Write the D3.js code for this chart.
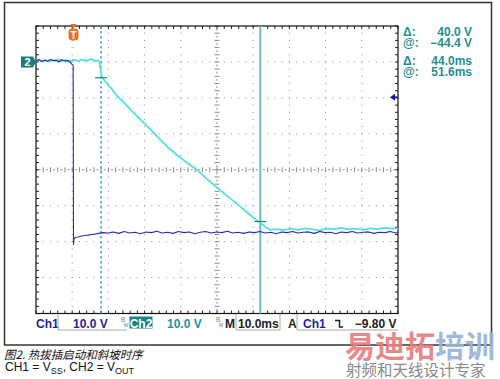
<!DOCTYPE html>
<html><head><meta charset="utf-8">
<script src="https://cdn.jsdelivr.net/npm/d3@7"></script>
<style>body{margin:0;background:#fff}svg{display:block}</style>
</head><body>
<script>
// ---- data (ms, V) ----
const timeDomain = [-10.36, 89.64];   // 10 ms/div, 10 divisions
const voltDomain = [-70, 10];         // 10 V/div, 8 divisions
const ch2Trace = [
 [-10.36,0.4],[-9.4,0.6],[-8.5,0.2],[-7.6,0.5],[-6.7,0.1],[-5.8,0.6],[-4.9,0.3],[-4.0,0.7],[-3.1,0.2],
 [-2.2,0.5],[-1.3,0.0],[-0.4,0.4],[0.5,0.6],[1.4,0.2],[2.3,0.7],[3.2,0.3],[4.1,0.5],[5.0,0.8],[5.9,0.3],
 [6.6,0.4],[7.1,0.2],[7.18,0.0],[7.6,-2.8],[7.87,-4.2],[8.7,-5.4],[9.53,-6.4],[10.64,-7.6],[12.02,-9.5],
 [13.67,-11.0],[15.61,-13.1],[18.37,-15.9],[21.13,-18.6],[23.62,-21.3],[26.1,-23.8],[29.97,-27.0],
 [34.12,-30.05],[36.88,-32.6],[39.92,-35.2],[42.96,-37.7],[46.0,-40.2],[48.48,-42.3],[50.69,-44.1],
 [52.35,-45.35],[53.45,-46.2],[54.28,-46.7],[56,-46.5],[58,-46.8],[60,-46.4],[62,-46.7],[64,-46.3],
 [66,-46.6],[68,-46.9],[70,-46.4],[72,-46.5],[74,-46.2],[76,-46.6],[78,-46.4],[80,-46.7],[82,-46.3],
 [84,-46.5],[86,-46.2],[88,-46.4],[89.64,-46.3]
];
const ch1Trace = [
 [-10.36,0.3],[-9.6,0.6],[-8.8,0.1],[-8.0,0.5],[-7.2,0.2],[-6.4,0.7],[-5.6,0.3],[-4.8,0.5],[-4.0,0.0],
 [-3.2,0.6],[-2.4,0.3],[-1.6,0.4],[-1.0,0.1],[-0.5,-0.6],[-0.1,-0.9],[0.0,-50.8],[0.15,-49.2],[0.6,-48.8],
 [1.2,-48.7],[2.0,-48.5],[3.0,-48.3],[4.0,-48.2],[5.0,-48.0],[6.0,-47.9],[7.0,-47.7],[8.0,-47.5],[9.5,-47.6],
 [11,-47.3],[12.5,-47.7],[14,-47.2],[15.5,-47.6],[17,-47.4],[18.5,-47.8],[20,-47.3],[21.5,-47.5],[23,-47.1],
 [24.5,-47.6],[26,-47.4],[27.5,-47.7],[29,-47.2],[30.5,-47.5],[32,-47.3],[33.5,-47.8],[35,-47.4],[36.5,-47.2],
 [38,-47.6],[39.5,-47.3],[41,-47.5],[42.5,-47.1],[44,-47.6],[45.5,-47.4],[47,-47.7],[48.5,-47.3],[50,-47.5],
 [51.5,-47.2],[53,-47.6],[54.5,-47.4],[56,-47.8],[57.5,-47.3],[59,-47.5],[60.5,-47.2],[62,-47.6],[63.5,-47.4],
 [65,-47.3],[66.5,-47.7],[68,-47.2],[69.5,-47.5],[71,-47.4],[72.5,-47.8],[74,-47.3],[75.5,-47.5],[77,-47.2],
 [78.5,-47.6],[80,-47.4],[81.5,-47.3],[83,-47.7],[84.5,-47.4],[86,-47.5],[87.5,-47.2],[89,-47.6],[89.64,-47.4]
];
const cursorTimes = [7.6, 51.6];
const cursorVolts = [-4.4, -44.4];
const triggerTime = 0;
const triggerLevel = -9.8;
const ch2Ground = 0;
const readoutLabels = ["Δ:", "@:", "Δ:", "@:"];
const readoutValues = ["40.0 V", "−44.4 V", "44.0ms", "51.6ms"];
const captionTitle = "图2. 热拔插启动和斜坡时序";

// ---- layout ----
const W = 500, H = 379;
const L = 36, R = 398, T = 26, B = 313.5;
const svg = d3.select("body").append("svg").attr("width", W).attr("height", H);
const x = d3.scaleLinear().domain(timeDomain).range([L, R]);
const y = d3.scaleLinear().domain(voltDomain).range([B, T]);
const gx = d3.scaleLinear().domain([0, 10]).range([L, R]);
const gy = d3.scaleLinear().domain([0, 8]).range([T, B]);

// outer frame
svg.append("rect").attr("x", 4.5).attr("y", 2.5).attr("width", 487).attr("height", 342.5)
  .attr("fill", "none").attr("stroke", "#333").attr("stroke-width", 1.5);

const grid = svg.append("g");
const dotC = "#8a8a8a";
for (let i = 1; i < 10; i++) {
  if (i === 5) continue;
  for (let j = 0; j <= 40; j++) grid.append("rect").attr("x", gx(i) - 0.5).attr("y", gy(j * 0.2) - 0.5).attr("width", 1).attr("height", 1).attr("fill", dotC);
}
for (let i = 1; i < 8; i++) {
  if (i === 4) continue;
  for (let j = 0; j <= 50; j++) grid.append("rect").attr("x", gx(j * 0.2) - 0.5).attr("y", gy(i) - 0.5).attr("width", 1).attr("height", 1).attr("fill", dotC);
}
for (let j = 0; j <= 50; j++) {
  const px = gx(j * 0.2);
  grid.append("line").attr("x1", px).attr("x2", px).attr("y1", gy(4) - 2.5).attr("y2", gy(4) + 2.5).attr("stroke", dotC).attr("stroke-width", 1);
  if (j < 50) grid.append("rect").attr("x", gx(j * 0.2 + 0.1) - 1).attr("y", gy(4) - 0.5).attr("width", 2).attr("height", 1).attr("fill", dotC);
  grid.append("line").attr("x1", px).attr("x2", px).attr("y1", T).attr("y2", T + 3).attr("stroke", "#222");
  grid.append("line").attr("x1", px).attr("x2", px).attr("y1", B).attr("y2", B - 3).attr("stroke", "#222");
}
for (let j = 0; j <= 40; j++) {
  const py = gy(j * 0.2);
  grid.append("line").attr("y1", py).attr("y2", py).attr("x1", gx(5) - 2.5).attr("x2", gx(5) + 2.5).attr("stroke", dotC).attr("stroke-width", 1);
  if (j < 40) grid.append("rect").attr("y", gy(j * 0.2 + 0.1) - 1).attr("x", gx(5) - 0.5).attr("width", 1).attr("height", 2).attr("fill", dotC);
  grid.append("line").attr("y1", py).attr("y2", py).attr("x1", L).attr("x2", L + 3).attr("stroke", "#222");
  grid.append("line").attr("y1", py).attr("y2", py).attr("x1", R).attr("x2", R - 3).attr("stroke", "#222");
}
grid.append("rect").attr("x", L).attr("y", T).attr("width", R - L).attr("height", B - T)
  .attr("fill", "none").attr("stroke", "#111").attr("stroke-width", 1.2);

// cursors
svg.append("line").attr("x1", x(cursorTimes[0])).attr("x2", x(cursorTimes[0])).attr("y1", T).attr("y2", B)
  .attr("stroke", "#3aaab2").attr("stroke-width", 1.5).attr("stroke-dasharray", "2.5,2.5");
svg.append("line").attr("x1", x(cursorTimes[1])).attr("x2", x(cursorTimes[1])).attr("y1", T).attr("y2", B)
  .attr("stroke", "#6cbcc4").attr("stroke-width", 2);

// traces
const line = d3.line().x(d => x(d[0])).y(d => y(d[1]));
svg.append("path").datum(ch2Trace).attr("d", line).attr("fill", "none")
  .attr("stroke", "#52e0e0").attr("stroke-width", 1.8).attr("stroke-linejoin", "round");
svg.append("path").datum(ch1Trace).attr("d", line).attr("fill", "none")
  .attr("stroke", "#2a2ab0").attr("stroke-width", 1.1).attr("stroke-linejoin", "round");

// horizontal cursor marks
cursorVolts.forEach((v, i) => {
  const cx = x(cursorTimes[i]);
  svg.append("line").attr("x1", cx - 6).attr("x2", cx + 6).attr("y1", y(v)).attr("y2", y(v))
    .attr("stroke", "#2b7f80").attr("stroke-width", 1.2);
});

// trigger marker
const tx = x(triggerTime);
svg.append("path").attr("d", `M${tx - 3},24 L${tx + 3},24 L${tx},28.5 Z`).attr("fill", "#e8701e");
svg.append("rect").attr("x", tx - 5).attr("y", 28.5).attr("width", 10).attr("height", 12).attr("rx", 4).attr("fill", "#e8701e");
svg.append("text").attr("x", tx).attr("y", 38.5).attr("text-anchor", "middle").attr("fill", "#fff")
  .attr("font-family", "Liberation Sans, Arial, sans-serif").attr("font-weight", "bold").attr("font-size", 10).text("T");

// ch2 ground marker
const g2 = y(ch2Ground);
svg.append("path").attr("d", `M21,${g2 - 5.5} H33 L36,${g2} L33,${g2 + 5.5} H21 Z`).attr("fill", "#1d7b7b");
svg.append("text").attr("x", 27.5).attr("y", g2 + 4).attr("text-anchor", "middle").attr("fill", "#fff")
  .attr("font-family", "Liberation Sans, Arial, sans-serif").attr("font-weight", "bold").attr("font-size", 11).text("2");

// trigger level arrow
const tl = y(triggerLevel);
svg.append("path").attr("d", `M390,${tl} L395,${tl - 3.5} L395,${tl + 3.5} Z`).attr("fill", "#1a1a90");
svg.append("line").attr("x1", 395).attr("x2", 398).attr("y1", tl).attr("y2", tl).attr("stroke", "#1a1a90").attr("stroke-width", 1.5);

// readouts
const fnt = "Liberation Sans, Arial, sans-serif";
const rY = [36, 47, 64.5, 75.5];
readoutLabels.forEach((lab, i) => {
  svg.append("text").attr("x", 403).attr("y", rY[i]).attr("fill", "#1d9090").attr("font-family", fnt)
    .attr("font-weight", "bold").attr("font-size", 12).text(lab);
  svg.append("text").attr("x", 472).attr("y", rY[i]).attr("text-anchor", "end").attr("fill", "#1d9090").attr("font-family", fnt)
    .attr("font-weight", "bold").attr("font-size", 12).text(readoutValues[i]);
});

// status bar
const sb = 327.5;
function st(txt, xx, col, anchor) {
  return svg.append("text").attr("x", xx).attr("y", sb).attr("fill", col).attr("font-family", fnt)
    .attr("font-weight", "bold").attr("font-size", 12).attr("text-anchor", anchor || "start").text(txt);
}
function box(pts) {
  svg.append("polyline").attr("points", pts).attr("fill", "none").attr("stroke", "#a8a8a8").attr("stroke-width", 1);
}
function bw(xx) {
  svg.append("text").attr("x", xx).attr("y", 322).attr("fill", "#8a7a6a").attr("font-family", fnt).attr("font-size", 6.5).text("B");
  svg.append("text").attr("x", xx + 2.5).attr("y", 327).attr("fill", "#4aa0b0").attr("font-family", fnt).attr("font-size", 6.5).text("w");
}
st("Ch1", 36, "#1f1fa0");
box("58,314 58,330 127,330");
st("10.0 V", 73, "#1f1fa0");
bw(121);
svg.append("rect").attr("x", 129.5).attr("y", 316.5).attr("width", 23).attr("height", 12).attr("fill", "#1c8484");
st("Ch2", 141, "#fff", "middle");
st("10.0 V", 167, "#1a9696");
bw(216);
st("M", 225, "#222");
box("236,314 236,330 280,330 280,314");
st("10.0ms", 238, "#222");
st("A", 288, "#222");
box("297,314 297,330 398,330");
st("Ch1", 303, "#1f1fa0");
svg.append("path").attr("d", "M335,320.5 H339.5 V327 H343").attr("fill", "none").attr("stroke", "#222").attr("stroke-width", 1.5);
st("−9.80 V", 396.5, "#222", "end");

// caption
svg.append("text").attr("x", 4).attr("y", 358.5).attr("fill", "#111")
  .attr("font-family", "Noto Sans CJK SC, sans-serif").attr("font-style", "italic").attr("font-size", 11.5).text(captionTitle);
const c2 = svg.append("text").attr("x", 5).attr("y", 370.5).attr("fill", "#111").attr("font-family", fnt).attr("font-size", 12);
c2.append("tspan").text("CH1 = V");
c2.append("tspan").attr("font-size", 9).attr("dy", 3).text("SS");
c2.append("tspan").attr("dy", -3).text(", CH2 = V");
c2.append("tspan").attr("font-size", 9).attr("dy", 3).text("OUT");

// watermark
const wm = svg.append("text").attr("x", 345).attr("y", 356.5).attr("font-family", "Noto Sans CJK SC, sans-serif")
  .attr("font-weight", "bold").attr("font-size", 30).attr("opacity", 0.92);
wm.append("tspan").attr("fill", "#e58080").text("易迪拓");
wm.append("tspan").attr("fill", "#98b4d8").text("培训");
svg.append("text").attr("x", 346).attr("y", 375.5).attr("font-family", "Noto Sans CJK SC, sans-serif")
  .attr("font-size", 15.5).attr("fill", "#8a8a8a").text("射频和天线设计专家");
</script>
</body></html>
